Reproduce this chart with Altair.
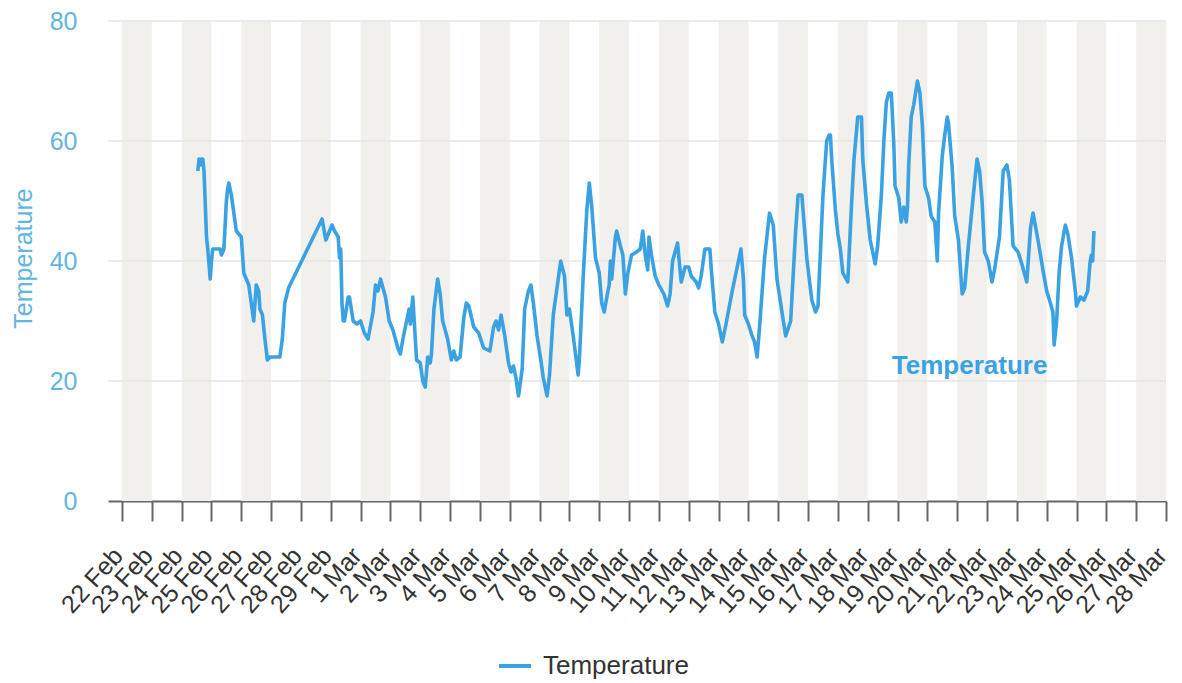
import altair as alt
import pandas as pd

# ---------------- data ----------------
START = "2024-02-22T00:00:00"
SERIES = "Temperature"

# hours after START of each reading, and the reading
hours = [61, 62, 63, 64, 65, 66, 68, 69, 71, 72, 73, 76, 79, 80, 82, 84, 85, 86, 88, 90,
         92, 96, 98, 102, 104, 106, 108, 110, 111, 113, 115, 117, 119, 127, 129, 131, 134,
         161, 164, 165, 169, 171, 174, 175, 176, 177, 178, 179, 182, 183, 186, 189, 192,
         195, 198, 202, 204, 206, 208, 212, 215, 218, 222, 224, 226, 229, 231, 232, 234,
         236, 237, 240, 242, 244, 246, 248, 249, 251, 254, 256, 258, 262, 265, 267, 269,
         272, 275, 277, 279, 283, 287, 291, 296, 299, 301, 303, 305, 308, 311, 313, 315,
         317, 319, 322, 324, 327, 329, 331, 334, 337, 339, 342, 344, 347, 351, 353, 356,
         358, 360, 362, 364, 367, 368, 371, 374, 376, 378, 381, 384, 386, 388, 391, 392,
         393, 394, 397, 398, 401, 403, 405, 407, 410, 414, 417, 419, 421, 423, 424, 426,
         429, 432, 436, 439, 441, 443, 447, 449, 450, 453, 456, 458, 462, 464, 466, 469,
         473, 474, 477, 480, 483, 486, 491, 498, 500, 501, 504, 507, 509, 511, 513, 517,
         521, 524, 527, 531, 534, 538, 542, 544, 547, 551, 555, 558, 560, 564, 567, 569,
         570, 571, 574, 576, 578, 580, 584, 587, 589, 592, 595, 596, 599, 602, 604, 606,
         608, 611, 613, 615, 617, 619, 621, 622, 625, 627, 629, 631, 632, 633, 635, 637,
         640, 642, 644, 646, 649, 651, 654, 656, 657, 660, 662, 664, 665, 668, 670, 673,
         676, 678, 681, 685, 688, 690, 692, 694, 697, 700, 702, 706, 709, 712, 714, 717,
         721, 724, 728, 731, 733, 737, 741, 744, 747, 749, 750, 752, 754, 756, 759, 761,
         764, 767, 768, 771, 774, 777, 779, 780, 781, 782]

temps = [55, 57, 56, 57, 57, 55, 44, 42, 37, 40, 42, 42, 42, 41, 42, 50, 52, 53, 51, 48,
         45, 44, 38, 36, 33, 30, 36, 35, 32, 31, 27, 23.5, 24, 24, 27, 33, 35.5,
         47, 43.5, 44, 46, 45, 44, 40.5, 42, 33, 30, 30, 34, 34, 30, 29.5, 30,
         28, 27, 31.5, 36, 35, 37, 34, 30, 28.5, 25.5, 24.5, 27, 30, 32, 29.5, 34,
         27, 23.5, 23, 20, 19, 24, 23, 24.5, 32, 37, 34.5, 30, 27, 23.5, 25, 23.5,
         24, 30.5, 33, 32.5, 29, 28, 25.5, 25, 29, 30, 28.5, 31, 27.5, 23, 21.5, 22.5,
         20.5, 17.5, 22, 32, 35, 36, 33, 27.5, 23.5, 20.5, 17.5, 21, 31, 37, 40, 37.5,
         31, 32, 29, 26, 21, 23.5, 37, 48.5, 53, 49, 40.5, 38, 33, 31.5, 35, 36,
         40, 37, 44, 45, 42.5, 41, 34.5, 38, 41, 41.5, 42, 45, 41, 38.5, 44, 41,
         37.5, 36, 34.5, 32.5, 34.5, 40, 43, 38.5, 36.5, 39, 39, 37.5, 36.5, 35.5, 37.5, 42,
         42, 39, 31.5, 29.5, 26.5, 29.5, 35, 42, 37, 31, 29.5, 27.5, 26.5, 24, 29, 40.5,
         48, 46, 37, 31.5, 27.5, 30, 45, 51, 51, 40.5, 33.5, 31.5, 32.5, 51, 60, 61,
         61, 57, 48.5, 44.5, 42, 38, 36.5, 49.5, 57, 64, 64, 57, 49.5, 43.5, 41.5, 39.5,
         42.5, 51, 60, 66.5, 68, 68, 59.5, 52.5, 50.5, 46.5, 49, 46.5, 49, 56, 64, 66,
         70, 68, 62.5, 52.5, 50.5, 47.5, 46.5, 40, 48, 57.5, 61, 64, 63, 55.5, 47.5, 43.5,
         34.5, 35.5, 42.5, 51, 57, 55, 50, 41.5, 40, 36.5, 38.5, 44, 55, 56, 53.5, 42.5,
         41.5, 39.5, 36.5, 45.5, 48, 43.5, 38.5, 35, 33, 31.5, 26, 30, 38, 42.5, 46, 44.5,
         40.5, 35, 32.5, 34, 33.5, 35, 40, 41, 40, 45]

# shaded (alternate) days
band_days = ["2024-02-22", "2024-02-24", "2024-02-26", "2024-02-28", "2024-03-01",
             "2024-03-03", "2024-03-05", "2024-03-07", "2024-03-09", "2024-03-11",
             "2024-03-13", "2024-03-15", "2024-03-17", "2024-03-19", "2024-03-21",
             "2024-03-23", "2024-03-25", "2024-03-27"]

# x axis: range of the time axis, one tick (and label) per day
x_domain_start = ("2024-02-21", 12, 45)
x_domain_end = ("2024-03-28", 0, 0)
x_tick_step = {"interval": "day", "step": 1}

y_ticks = [0, 20, 40, 60, 80]
grid_values = [20, 40, 60, 80]

# in-plot series label position (hours after START, temperature)
label_hour = [682]
label_temp = [22.5]

# ---------------- styling ----------------
BLUE = "#3aa2e2"
AXIS_BLUE = "#62b5e0"
BAND = "#f2f0ed"
GRID = "#e6e6e6"
FONT = "Liberation Sans"

start = pd.Timestamp(START)
df = pd.DataFrame({
    "time": start + pd.to_timedelta(hours, unit="h"),
    "temp": temps,
    "series": SERIES,
})
bands = pd.DataFrame({"start": pd.to_datetime(band_days)})
bands["end"] = bands["start"] + pd.Timedelta(days=1)
grid_df = pd.DataFrame({"v": grid_values})
lab_df = pd.DataFrame({
    "time": start + pd.to_timedelta(label_hour, unit="h"),
    "temp": label_temp,
    "text": SERIES,
})


def dt(s, h=0, m=0):
    t = pd.Timestamp(s)
    return alt.DateTime(year=t.year, month=t.month, date=t.day, hours=h, minutes=m)


x_scale = alt.Scale(domain=[dt(*x_domain_start), dt(*x_domain_end)], nice=False)
y_scale = alt.Scale(domain=[0, 80], nice=False)

x_axis = alt.Axis(
    tickCount=x_tick_step,
    format="%-d %b",
    labelAngle=312,
    labelAlign="right",
    labelBaseline="middle",
    labelFontSize=25,
    labelColor="#333333",
    labelFont=FONT,
    labelOverlap=False,
    labelFlush=False,
    labelBound=False,
    labelPadding=30,
    labelOffset=-4,
    tickSize=20,
    tickWidth=2,
    tickColor="#666666",
    domainColor="#666666",
    domainWidth=2,
    grid=False,
    title=None,
)

y_axis = alt.Axis(
    values=y_ticks,
    labelFontSize=25,
    labelColor=AXIS_BLUE,
    labelFont=FONT,
    labelPadding=31,
    ticks=False,
    domain=False,
    grid=False,
    title="Temperature",
    titleFontSize=25,
    titleFont=FONT,
    titleFontWeight="normal",
    titleColor=AXIS_BLUE,
    titleAngle=270,
    titleX=-77,
    titleY=237,
    titleAlign="center",
    titleBaseline="alphabetic",
)

# axes are declared once (x on the band layer, y on the grid layer)
band_layer = alt.Chart(bands).mark_rect(color=BAND).encode(
    x=alt.X("start:T", scale=x_scale, axis=x_axis),
    x2="end:T",
)

grid_layer = alt.Chart(grid_df).mark_rule(color=GRID, strokeWidth=1.5).encode(
    y=alt.Y("v:Q", scale=y_scale, axis=y_axis),
)

line_layer = alt.Chart(df).mark_line(strokeWidth=3.6, strokeJoin="round").encode(
    x=alt.X("time:T", scale=x_scale),
    y=alt.Y("temp:Q", scale=y_scale),
    color=alt.Color(
        "series:N",
        scale=alt.Scale(domain=[SERIES], range=[BLUE]),
        legend=alt.Legend(
            title=None,
            orient="none",
            legendX=389,
            legendY=627,
            symbolType="stroke",
            symbolSize=1024,
            symbolStrokeWidth=4,
            labelFontSize=26,
            labelFont=FONT,
            labelColor="#333333",
            labelOffset=10,
            padding=0,
        ),
    ),
)

text_layer = alt.Chart(lab_df).mark_text(
    fontSize=26, fontWeight="bold", font=FONT, color=BLUE,
    align="center", baseline="middle",
).encode(
    x=alt.X("time:T", scale=x_scale),
    y=alt.Y("temp:Q", scale=y_scale),
    text="text:N",
)

chart = alt.layer(band_layer, grid_layer, line_layer, text_layer).properties(
    width=1058,
    height=480,
    padding={"left": 100, "top": 13, "right": 8, "bottom": 180},
    autosize=alt.AutoSizeParams(type="none"),
    background="white",
).configure_view(stroke=None)

chart.save("out.html", embed_options={"renderer": "svg", "actions": False})
